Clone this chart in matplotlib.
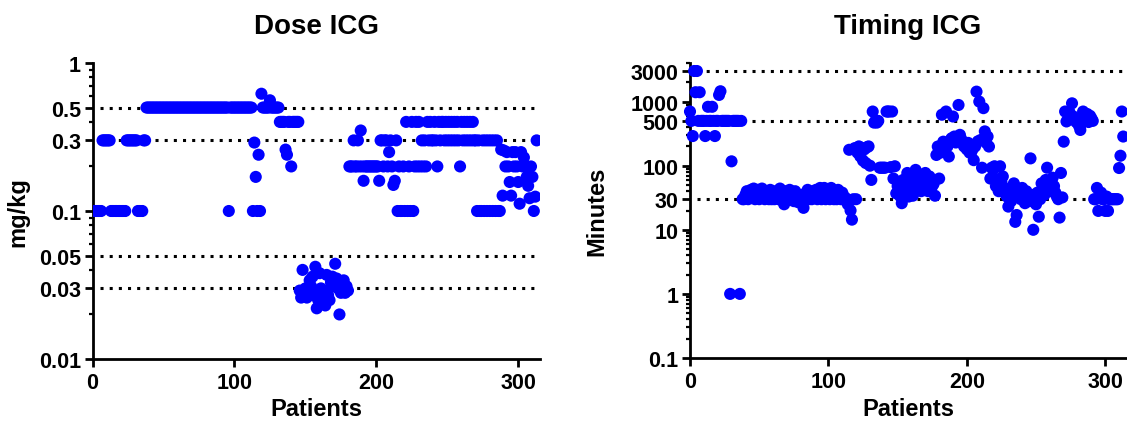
import numpy as np
import matplotlib
matplotlib.use("Agg")
import matplotlib.pyplot as plt
from matplotlib.ticker import FixedLocator, NullFormatter, NullLocator

plt.rcParams['font.family'] = ['Liberation Sans', 'DejaVu Sans']
plt.rcParams['font.weight'] = 'bold'

# --- data: one value per patient ---
dose_mgkg = [
    0.1, 0.1, 0.1, 0.1, 0.1, 0.1, 0.1, 0.3, 0.3, 0.3,
    0.3, 0.3, 0.3, 0.1, 0.1, 0.1, 0.1, 0.1, 0.1, 0.1,
    0.1, 0.1, 0.1, 0.1, 0.3, 0.3, 0.3, 0.3, 0.3, 0.3,
    0.3, 0.3, 0.1, 0.1, 0.1, 0.1, 0.3, 0.3, 0.5, 0.5,
    0.5, 0.5, 0.5, 0.5, 0.5, 0.5, 0.5, 0.5, 0.5, 0.5,
    0.5, 0.5, 0.5, 0.5, 0.5, 0.5, 0.5, 0.5, 0.5, 0.5,
    0.5, 0.5, 0.5, 0.5, 0.5, 0.5, 0.5, 0.5, 0.5, 0.5,
    0.5, 0.5, 0.5, 0.5, 0.5, 0.5, 0.5, 0.5, 0.5, 0.5,
    0.5, 0.5, 0.5, 0.5, 0.5, 0.5, 0.5, 0.5, 0.5, 0.5,
    0.5, 0.5, 0.5, 0.5, 0.5, 0.5, 0.1, 0.5, 0.5, 0.5,
    0.5, 0.5, 0.5, 0.5, 0.5, 0.5, 0.5, 0.5, 0.5, 0.5,
    0.5, 0.5, 0.5, 0.1, 0.29, 0.17, 0.1, 0.24, 0.1, 0.62,
    0.5, 0.5, 0.5, 0.5, 0.5, 0.56, 0.5, 0.5, 0.5, 0.5,
    0.5, 0.5, 0.4, 0.4, 0.4, 0.4, 0.26, 0.24, 0.4, 0.4,
    0.2, 0.4, 0.4, 0.4, 0.4, 0.4, 0.029, 0.026, 0.040, 0.028,
    0.030, 0.026, 0.028, 0.034, 0.031, 0.036, 0.027, 0.042, 0.022, 0.025,
    0.038, 0.030, 0.0255, 0.029, 0.023, 0.037, 0.027, 0.025, 0.033, 0.036,
    0.031, 0.044, 0.035, 0.030, 0.020, 0.028, 0.033, 0.034, 0.028, 0.031,
    0.029, 0.2, 0.2, 0.2, 0.3, 0.2, 0.2, 0.3, 0.2, 0.35,
    0.2, 0.16, 0.2, 0.2, 0.2, 0.2, 0.2, 0.2, 0.2, 0.2,
    0.2, 0.2, 0.16, 0.3, 0.3, 0.2, 0.3, 0.3, 0.2, 0.25,
    0.3, 0.2, 0.15, 0.16, 0.3, 0.1, 0.2, 0.1, 0.1, 0.2,
    0.1, 0.4, 0.1, 0.2, 0.1, 0.4, 0.1, 0.2, 0.4, 0.2,
    0.4, 0.2, 0.3, 0.2, 0.3, 0.2, 0.4, 0.3, 0.4, 0.3,
    0.3, 0.4, 0.3, 0.2, 0.4, 0.3, 0.4, 0.4, 0.3, 0.4,
    0.3, 0.4, 0.3, 0.4, 0.3, 0.4, 0.3, 0.4, 0.3, 0.2,
    0.4, 0.3, 0.4, 0.3, 0.4, 0.3, 0.4, 0.3, 0.4, 0.3,
    0.3, 0.1, 0.3, 0.1, 0.1, 0.3, 0.1, 0.3, 0.1, 0.3,
    0.1, 0.3, 0.1, 0.3, 0.1, 0.3, 0.1, 0.1, 0.26, 0.127,
    0.256, 0.2, 0.25, 0.2, 0.157, 0.127, 0.25, 0.2, 0.25, 0.2,
    0.157, 0.112, 0.25, 0.2, 0.23, 0.2, 0.17, 0.148, 0.122, 0.2,
    0.17, 0.1, 0.125, 0.3,
]

timing_min = [
    700, 500, 290, 3000, 1400, 3000, 500, 1400, 500, 500,
    500, 290, 500, 830, 500, 500, 830, 500, 290, 500,
    500, 1270, 1450, 500, 500, 500, 500, 500, 500, 1,
    117, 500, 500, 500, 500, 500, 1, 500, 30, 30,
    35, 40, 30, 38, 42, 32, 44, 30, 36, 42,
    30, 38, 44, 32, 30, 40, 35, 30, 42, 30,
    36, 30, 40, 33, 30, 44, 38, 30, 25, 40,
    30, 36, 42, 30, 35, 28, 40, 32, 27, 30,
    35, 30, 22, 30, 38, 42, 30, 36, 30, 40,
    33, 42, 30, 35, 45, 30, 38, 45, 30, 42,
    36, 30, 45, 40, 30, 38, 30, 42, 35, 30,
    38, 30, 32, 30, 25, 177, 20, 14.4, 30, 188,
    30, 160, 200, 140, 190, 120, 180, 110, 195, 200,
    100, 60, 700, 470, 500, 470, 500, 93, 93, 93,
    93, 93, 700, 700, 700, 95, 700, 63, 98, 37,
    48, 53, 33, 26, 60, 40, 48, 77, 33, 68,
    55, 34, 45, 86, 70, 60, 53, 40, 65, 50,
    77, 55, 40, 68, 60, 48, 52, 34, 147, 199,
    63, 160, 624, 237, 180, 700, 200, 139, 250, 268,
    585, 285, 230, 250, 886, 303, 260, 220, 200, 199,
    180, 227, 160, 158, 177, 122, 200, 1430, 240, 1000,
    252, 93, 790, 343, 227, 285, 199, 63, 93, 86,
    98, 48, 60, 40, 98, 55, 68, 45, 36, 33,
    23, 30, 28, 42, 53, 13.3, 17, 35, 37, 30,
    45, 30, 26, 40, 33, 28, 130, 35, 10, 33,
    25, 38, 16, 30, 53, 40, 35, 60, 93, 45,
    40, 55, 65, 48, 38, 33, 30, 15.5, 77, 32,
    237, 700, 490, 520, 700, 600, 940, 585, 520, 480,
    520, 420, 361, 460, 700, 560, 520, 640, 480, 600,
    550, 500, 30, 30, 45, 19.7, 33, 38, 30, 30,
    19.7, 33, 19.7, 30, 30, 30, 30, 30, 30, 30,
    92, 143, 700, 285,
]

dose_ticks = [0.01, 0.03, 0.05, 0.1, 0.3, 0.5, 1]
dose_ticklabels = ["0.01", "0.03", "0.05", "0.1", "0.3", "0.5", "1"]
dose_reflines = [0.5, 0.3, 0.05, 0.03]

timing_ticks = [0.1, 1, 10, 30, 100, 500, 1000, 3000]
timing_ticklabels = ["0.1", "1", "10", "30", "100", "500", "1000", "3000"]
timing_reflines = [3000, 500, 30]

x_ticks = [0, 100, 200, 300]

W, H = 1127, 427
fig = plt.figure(figsize=(W / 100, H / 100), dpi=100)


def px_axes(x0, x1, y_top, y_bot):
    return fig.add_axes([x0 / W, 1 - y_bot / H, (x1 - x0) / W, (y_bot - y_top) / H])


def minor_positions(lo, hi, majors):
    out = []
    for dec in range(int(np.floor(np.log10(lo))), int(np.ceil(np.log10(hi))) + 1):
        for m in range(1, 10):
            v = m * 10.0 ** dec
            if lo <= v <= hi and not any(np.isclose(v, t) for t in majors):
                out.append(v)
    return out


def style_panel(ax, values, ylim, ticks, ticklabels, reflines, title, ylabel, ylab_px, title_x):
    x = np.arange(len(values))
    for r in reflines:
        ax.hlines(r, 5, 315, colors="black", linestyles=(0, (1, 2)), linewidth=2.2, zorder=1)
    ax.scatter(x, values, s=76, color="#0000FF", edgecolors="none", zorder=3)

    ax.set_yscale("log")
    ax.set_ylim(*ylim)
    ax.set_xlim(0, 315)
    ax.yaxis.set_major_locator(FixedLocator(ticks))
    ax.set_yticklabels(ticklabels)
    ax.yaxis.set_minor_locator(FixedLocator(minor_positions(ylim[0], ylim[1], ticks)))
    ax.yaxis.set_minor_formatter(NullFormatter())
    ax.set_xticks(x_ticks)
    ax.xaxis.set_minor_locator(NullLocator())

    for side in ("top", "right"):
        ax.spines[side].set_visible(False)
    for side in ("left", "bottom"):
        ax.spines[side].set_linewidth(2.0)
    ax.tick_params(which="major", length=5.5, width=2.0, labelsize=15.5, pad=3)
    ax.tick_params(which="minor", length=3, width=1.6)
    ax.tick_params(axis="x", pad=4)
    for lab in ax.get_xticklabels() + ax.get_yticklabels():
        lab.set_fontweight("bold")

    bbox = ax.get_position()
    ax.set_xlabel("Patients", fontsize=17, fontweight="bold")
    ax.xaxis.label.set_va("center")
    ax.xaxis.set_label_coords(0.5, -(410 - 360) / (bbox.height * H))
    ax.set_ylabel(ylabel, fontsize=17, fontweight="bold")
    ax.yaxis.label.set_va("center")
    ax.yaxis.set_label_coords((ylab_px - bbox.x0 * W) / (bbox.width * W), 0.5)
    fig.text(title_x / W, 1 - 27 / H, title, fontsize=20, fontweight="bold",
             ha="center", va="center")


ax1 = px_axes(92.6, 539.5, 64, 360)
style_panel(ax1, dose_mgkg, (0.01, 1), dose_ticks, dose_ticklabels, dose_reflines,
            "Dose ICG", "mg/kg", 18, 316)

ax2 = px_axes(690, 1126, 64, 359)
style_panel(ax2, timing_min, (0.1, 4000), timing_ticks, timing_ticklabels, timing_reflines,
            "Timing ICG", "Minutes", 597, 908)
for c in ax2.collections:
    c.set_clip_on(False)

fig.savefig("out.png", dpi=100)
